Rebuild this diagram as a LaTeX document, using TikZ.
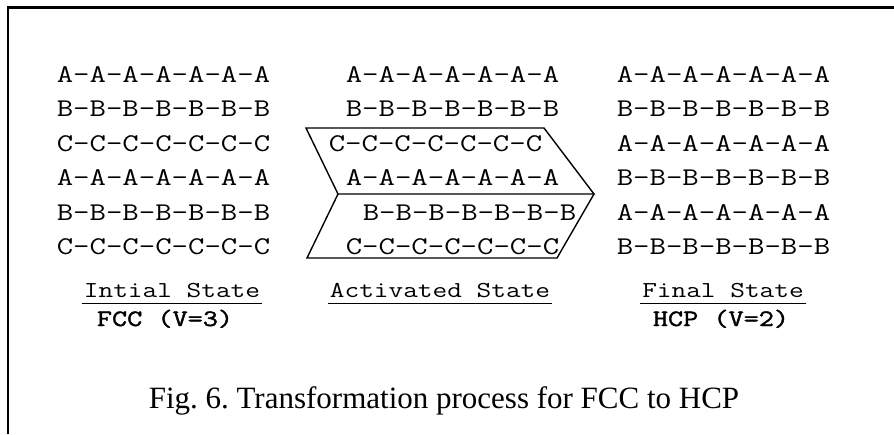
\documentclass[tikz,border=0pt]{standalone}
\usepackage{fontspec}
\setmainfont{Liberation Serif}
\newfontfamily\latticefont{Latin Modern Mono}[FakeStretch=1.25]
\newfontfamily\latticebold{Latin Modern Mono}[FakeStretch=1.25, FakeBold=1.6]
\usetikzlibrary{positioning}

\tikzset{
  layer/.style={font=\latticefont\fontsize{25.5}{25.5}\selectfont, inner sep=0pt, anchor=base},
  statelabel/.style={font=\latticefont\fontsize{22.8}{22.8}\selectfont, inner xsep=2pt, inner ysep=6pt, anchor=base},
  latticelabel/.style={font=\latticebold\fontsize{23.5}{23.5}\selectfont, inner sep=0pt, anchor=base},
  underline/.style={line width=1.4pt},
  chevron/.style={line width=1.4pt, line join=miter}
}

\begin{document}
\frenchspacing
\begin{tikzpicture}[x=1pt, y=-1pt]
    \useasboundingbox (0,0) rectangle (894,434);
    % partial frame
    \draw[line width=2.2pt] (8,434) -- (8,7.5) -- (894,7.5);

    % initial stacking
    \node[layer] (i1) at (163.5,82) {A-A-A-A-A-A-A};
    \node[layer] (i2) at (163.5,116.5) {B-B-B-B-B-B-B};
    \node[layer] (i3) at (163.5,151) {C-C-C-C-C-C-C};
    \node[layer] (i4) at (163.5,185.5) {A-A-A-A-A-A-A};
    \node[layer] (i5) at (163.5,220) {B-B-B-B-B-B-B};
    \node[layer] (i6) at (163.5,254.5) {C-C-C-C-C-C-C};

    % activated stacking
    \node[layer] (a1) at (452.5,82) {A-A-A-A-A-A-A};
    \node[layer] (a2) at (452.5,116.5) {B-B-B-B-B-B-B};
    \node[layer] (a3) at (435.5,151) {C-C-C-C-C-C-C};
    \node[layer] (a4) at (452.5,185.5) {A-A-A-A-A-A-A};
    \node[layer] (a5) at (469.5,220) {B-B-B-B-B-B-B};
    \node[layer] (a6) at (452.5,254.5) {C-C-C-C-C-C-C};

    % final stacking
    \node[layer] (f1) at (723.5,82) {A-A-A-A-A-A-A};
    \node[layer] (f2) at (723.5,116.5) {B-B-B-B-B-B-B};
    \node[layer] (f3) at (723.5,151) {A-A-A-A-A-A-A};
    \node[layer] (f4) at (723.5,185.5) {B-B-B-B-B-B-B};
    \node[layer] (f5) at (723.5,220) {A-A-A-A-A-A-A};
    \node[layer] (f6) at (723.5,254.5) {B-B-B-B-B-B-B};

    % sheared block
    \draw[chevron] (306,128) -- (544,128) -- (594,194) -- (338,194) -- cycle;
    \draw[chevron] (338,194) -- (307,258) -- (557,258) -- (594,194);

    % state labels
    \node[statelabel] (initial) at (172,297) {Intial State};
    \draw[underline] (initial.south west) -- (initial.south east);
    \node[latticelabel] (fcc) at (165,326) {FCC (V=3)};

    \node[statelabel] (activated) at (440,297) {Activated State};
    \draw[underline] (activated.south west) -- (activated.south east);

    \node[statelabel] (final) at (723,297) {Final State};
    \draw[underline] (final.south west) -- (final.south east);
    \node[latticelabel] (hcp) at (721,326) {HCP (V=2)};

    \node[font=\fontsize{31}{31}\selectfont, anchor=base] (caption) at (444,408) {Fig. 6. Transformation process for FCC to HCP};
\end{tikzpicture}
\end{document}
